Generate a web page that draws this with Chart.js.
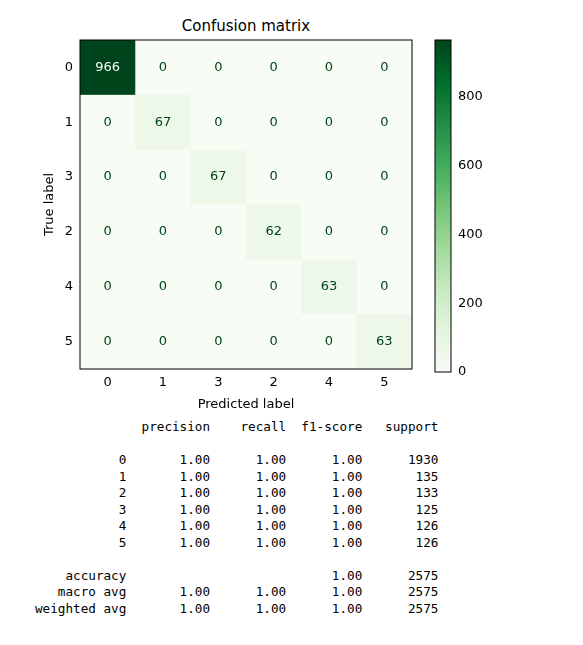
<!DOCTYPE html>
<html><head><meta charset="utf-8">
<script src="https://cdn.jsdelivr.net/npm/chart.js@4"></script>
<style>
body{margin:0;background:#fff;width:583px;height:645px;position:relative;overflow:hidden;font-family:"DejaVu Sans",sans-serif}
canvas{position:absolute;left:0;top:0}
#title{position:absolute;top:17px;left:80px;width:332px;text-align:center;font-size:15px;color:#000}
pre{position:absolute;left:35px;top:419px;margin:0;font-family:"DejaVu Sans Mono",monospace;font-size:12.65px;line-height:16.5px;color:#000}
</style></head><body>
<div id="title">Confusion matrix</div>
<div style="position:absolute;left:0;top:0;width:583px;height:415px"><canvas id="cm"></canvas></div>
<div style="position:absolute;left:0;top:0;width:583px;height:415px"><canvas id="cb"></canvas></div>
<pre id="rep"></pre>
<script>
const labels = ['0','1','3','2','4','5'];
const matrix = [
  [966,0,0,0,0,0],
  [0,67,0,0,0,0],
  [0,0,67,0,0,0],
  [0,0,0,62,0,0],
  [0,0,0,0,63,0],
  [0,0,0,0,0,63]
];
const cbTicks = [0,200,400,600,800];
const reportClasses = ['0','1','2','3','4','5'];
const precision = [1,1,1,1,1,1];
const recall = [1,1,1,1,1,1];
const f1 = [1,1,1,1,1,1];
const support = [1930,135,133,125,126,126];
const accuracy = 1.00, total = 2575;

const greens = ['#f7fcf5','#e5f5e0','#c7e9c0','#a1d99b','#74c476','#41ab5d','#238b45','#006d2c','#00441b'];
function hex(h){return [1,3,5].map(i=>parseInt(h.substr(i,2),16));}
function cmap(t){
  t=Math.max(0,Math.min(1,t));const n=greens.length-1;const p=t*n;const i=Math.min(n-1,Math.floor(p));const f=p-i;
  const a=hex(greens[i]),b=hex(greens[i+1]);
  return 'rgb('+a.map((v,k)=>Math.round(v+(b[k]-v)*f)).join(',')+')';
}
const vmax = Math.max(...matrix.flat());
const pts=[];
matrix.forEach((row,i)=>row.forEach((v,j)=>pts.push({x:labels[j],y:labels[i],v})));
const tickFont={family:'DejaVu Sans',size:13};

const cellPlugin={id:'cells',beforeDatasetsDraw(c){
  const ctx=c.ctx,xs=c.scales.x,ys=c.scales.y,a=c.chartArea;
  const w=(a.right-a.left)/labels.length,h=(a.bottom-a.top)/labels.length;
  ctx.save();
  pts.forEach(p=>{
    const cx=xs.getPixelForValue(labels.indexOf(p.x)),cy=ys.getPixelForValue(labels.indexOf(p.y));
    ctx.fillStyle=cmap(p.v/vmax);ctx.fillRect(cx-w/2,cy-h/2,w+0.5,h+0.5);
    ctx.fillStyle=p.v>vmax/2?'#f7fcf5':'#00441b';
    ctx.font='13px "DejaVu Sans"';ctx.textAlign='center';ctx.textBaseline='middle';
    ctx.fillText(String(p.v),cx,cy);
  });
  ctx.strokeStyle='#000';ctx.lineWidth=1;ctx.strokeRect(a.left,a.top,a.right-a.left,a.bottom-a.top);
  ctx.translate(a.left-30,(a.top+a.bottom)/2);ctx.rotate(-Math.PI/2);
  ctx.fillStyle='#000';ctx.font='13px "DejaVu Sans"';ctx.fillText('True label',0,0);
  ctx.restore();
}};
new Chart(document.getElementById('cm'),{
  type:'scatter',
  data:{datasets:[{data:pts.map(p=>({x:labels.indexOf(p.x),y:labels.indexOf(p.y)})),pointRadius:0}]},
  options:{responsive:true,maintainAspectRatio:false,animation:false,
    layout:{padding:{top:40,left:0,right:171,bottom:0}},
    plugins:{legend:{display:false},tooltip:{enabled:false}},
    scales:{
      x:{type:'linear',min:-0.5,max:5.5,afterFit(s){s.height=46;},
        afterBuildTicks(s){s.ticks=labels.map((l,i)=>({value:i}));},
        ticks:{color:'#000',font:tickFont,padding:2,callback:(v)=>labels[v]},
        grid:{display:false,drawTicks:true,tickLength:4,tickColor:'#000'},border:{display:false},
        title:{display:true,text:'Predicted label',color:'#000',font:tickFont,padding:{top:0,bottom:3}}},
      y:{type:'linear',min:-0.5,max:5.5,reverse:true,afterFit(s){s.width=80;},
        afterBuildTicks(s){s.ticks=labels.map((l,i)=>({value:i}));},
        ticks:{color:'#000',font:tickFont,padding:3,crossAlign:'near',callback:(v)=>labels[v]},
        grid:{display:false,drawTicks:true,tickLength:4,tickColor:'#000'},border:{display:false}}
    }},
  plugins:[cellPlugin]
});

const cbPlugin={id:'cbar',beforeDatasetsDraw(c){
  const ctx=c.ctx,a=c.chartArea,ys=c.scales.y;
  const top=ys.getPixelForValue(vmax),bot=ys.getPixelForValue(0);
  const g=ctx.createLinearGradient(0,bot,0,top);
  greens.forEach((col,i)=>g.addColorStop(i/(greens.length-1),col));
  ctx.save();ctx.fillStyle=g;ctx.fillRect(a.left,top,a.right-a.left,bot-top);
  ctx.strokeStyle='#000';ctx.lineWidth=1;ctx.strokeRect(a.left,top,a.right-a.left,bot-top);ctx.restore();
}};
new Chart(document.getElementById('cb'),{
  type:'scatter',data:{datasets:[{data:[],pointRadius:0}]},
  options:{responsive:true,maintainAspectRatio:false,animation:false,
    layout:{padding:{top:40,left:435,right:92,bottom:43}},
    plugins:{legend:{display:false},tooltip:{enabled:false}},
    scales:{x:{display:false,min:0,max:1},
      y:{position:'right',min:0,max:vmax,afterFit(s){s.width=40;},
        afterBuildTicks(s){s.ticks=cbTicks.map(v=>({value:v}));},
        ticks:{color:'#000',font:tickFont,padding:3},
        grid:{display:false,drawTicks:true,tickLength:4,tickColor:'#000'},border:{display:false}}}},
  plugins:[cbPlugin]
});

const r=(s,w)=>String(s).padStart(w);
let t=r('',12)+' '+[' precision','    recall','  f1-score','   support'].join('')+'\n\n';
reportClasses.forEach((c,i)=>{t+=r(c,12)+' '+' '+r(precision[i].toFixed(2),9)+' '+r(recall[i].toFixed(2),9)+' '+r(f1[i].toFixed(2),9)+' '+r(support[i],9)+'\n';});
t+='\n'+r('accuracy',12)+' '+' '+r('',9)+' '+r('',9)+' '+r(accuracy.toFixed(2),9)+' '+r(total,9)+'\n';
t+=r('macro avg',12)+' '+' '+r('1.00',9)+' '+r('1.00',9)+' '+r('1.00',9)+' '+r(total,9)+'\n';
t+=r('weighted avg',12)+' '+' '+r('1.00',9)+' '+r('1.00',9)+' '+r('1.00',9)+' '+r(total,9)+'\n';
document.getElementById('rep').textContent=t;
</script></body></html>
